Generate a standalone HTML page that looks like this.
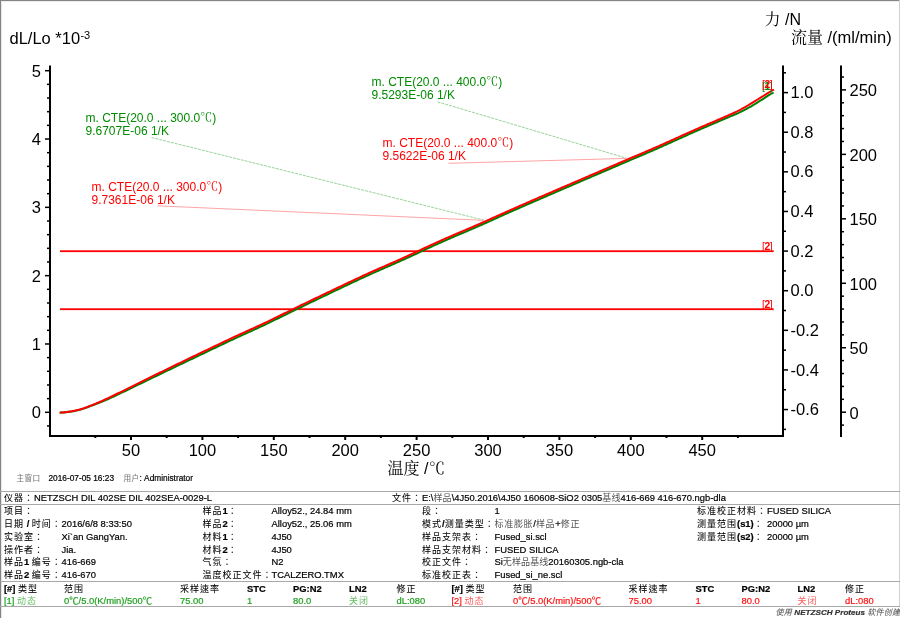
<!DOCTYPE html>
<html><head><meta charset="utf-8"><title>NETZSCH DIL</title>
<style>
html,body{margin:0;padding:0;background:#fff;}
#pg{position:relative;width:900px;height:618px;overflow:hidden;background:#fff;}
svg{position:absolute;left:0;top:0;}
.tk{font-family:"Liberation Sans", Arial, sans-serif;font-size:16.5px;fill:#000;}
.tt{font-family:"Liberation Sans", Arial, sans-serif;font-size:16px;fill:#000;}
.cj{font-family:"Noto Serif CJK SC","Noto Sans CJK SC",serif;}
.an{font-family:"Liberation Sans", Arial, sans-serif;font-size:12px;}
.lb{font-family:"Liberation Sans", Arial, sans-serif;font-size:10.3px;}
.t{position:absolute;white-space:nowrap;font-family:"Liberation Sans", "Noto Sans CJK TC", sans-serif;font-size:9.4px;line-height:11px;color:#000;-webkit-text-stroke:0.2px currentColor;}
.lbl{letter-spacing:0;}
.c{font-size:9px;letter-spacing:1px;-webkit-text-stroke:0.05px currentColor;}
.val .c{letter-spacing:0.1px;color:#555;-webkit-text-stroke:0;}
.val .wide .c{letter-spacing:0.7px;}
.lite .c{opacity:0.7;-webkit-text-stroke:0;}
.st .c{font-size:7.6px;letter-spacing:0.4px;color:#777;}
.st{font-size:8.3px;}
.g{color:#777;}
.hl{position:absolute;left:0;width:900px;height:1px;background:#a8a8a8;}
.ft{color:#555;font-size:8.1px;}
.ft b{color:#333;}
.ft .c{font-size:8px;letter-spacing:0.3px;}
</style></head><body><div id="pg">
<svg width="900" height="618" viewBox="0 0 900 618">
<rect x="0" y="0" width="900" height="1" fill="#858585"/>
<rect x="0" y="0" width="1" height="618" fill="#838383"/>
<rect x="1" y="1" width="1" height="617" fill="#e6e6e6"/>
<rect x="1" y="1" width="898" height="1" fill="#ececec"/>
<rect x="899" y="0" width="1" height="607" fill="#d0d0d0"/>
<rect x="49" y="65.5" width="2" height="371.5" fill="#000"/>
<rect x="49" y="435" width="734" height="2" fill="#000"/>
<rect x="47" y="425.21" width="2" height="1.5" fill="#000"/>
<rect x="45" y="411.55" width="4" height="1.5" fill="#000"/>
<rect x="47" y="397.89" width="2" height="1.5" fill="#000"/>
<rect x="47" y="384.22" width="2" height="1.5" fill="#000"/>
<rect x="47" y="370.56" width="2" height="1.5" fill="#000"/>
<rect x="47" y="356.89" width="2" height="1.5" fill="#000"/>
<rect x="45" y="343.23" width="4" height="1.5" fill="#000"/>
<rect x="47" y="329.57" width="2" height="1.5" fill="#000"/>
<rect x="47" y="315.90" width="2" height="1.5" fill="#000"/>
<rect x="47" y="302.24" width="2" height="1.5" fill="#000"/>
<rect x="47" y="288.57" width="2" height="1.5" fill="#000"/>
<rect x="45" y="274.91" width="4" height="1.5" fill="#000"/>
<rect x="47" y="261.25" width="2" height="1.5" fill="#000"/>
<rect x="47" y="247.58" width="2" height="1.5" fill="#000"/>
<rect x="47" y="233.92" width="2" height="1.5" fill="#000"/>
<rect x="47" y="220.25" width="2" height="1.5" fill="#000"/>
<rect x="45" y="206.59" width="4" height="1.5" fill="#000"/>
<rect x="47" y="192.93" width="2" height="1.5" fill="#000"/>
<rect x="47" y="179.26" width="2" height="1.5" fill="#000"/>
<rect x="47" y="165.60" width="2" height="1.5" fill="#000"/>
<rect x="47" y="151.93" width="2" height="1.5" fill="#000"/>
<rect x="45" y="138.27" width="4" height="1.5" fill="#000"/>
<rect x="47" y="124.61" width="2" height="1.5" fill="#000"/>
<rect x="47" y="110.94" width="2" height="1.5" fill="#000"/>
<rect x="47" y="97.28" width="2" height="1.5" fill="#000"/>
<rect x="47" y="83.61" width="2" height="1.5" fill="#000"/>
<rect x="45" y="69.95" width="4" height="1.5" fill="#000"/>
<text x="41" y="418.3" text-anchor="end" class="tk">0</text>
<text x="41" y="350.0" text-anchor="end" class="tk">1</text>
<text x="41" y="281.7" text-anchor="end" class="tk">2</text>
<text x="41" y="213.3" text-anchor="end" class="tk">3</text>
<text x="41" y="145.0" text-anchor="end" class="tk">4</text>
<text x="41" y="76.7" text-anchor="end" class="tk">5</text>
<rect x="94.30" y="437" width="2" height="1" fill="#000"/>
<rect x="130.00" y="437" width="2" height="3" fill="#000"/>
<rect x="165.70" y="437" width="2" height="1" fill="#000"/>
<rect x="201.40" y="437" width="2" height="3" fill="#000"/>
<rect x="237.10" y="437" width="2" height="1" fill="#000"/>
<rect x="272.80" y="437" width="2" height="3" fill="#000"/>
<rect x="308.50" y="437" width="2" height="1" fill="#000"/>
<rect x="344.20" y="437" width="2" height="3" fill="#000"/>
<rect x="379.90" y="437" width="2" height="1" fill="#000"/>
<rect x="415.60" y="437" width="2" height="3" fill="#000"/>
<rect x="451.30" y="437" width="2" height="1" fill="#000"/>
<rect x="487.00" y="437" width="2" height="3" fill="#000"/>
<rect x="522.70" y="437" width="2" height="1" fill="#000"/>
<rect x="558.40" y="437" width="2" height="3" fill="#000"/>
<rect x="594.10" y="437" width="2" height="1" fill="#000"/>
<rect x="629.80" y="437" width="2" height="3" fill="#000"/>
<rect x="665.50" y="437" width="2" height="1" fill="#000"/>
<rect x="701.20" y="437" width="2" height="3" fill="#000"/>
<rect x="736.90" y="437" width="2" height="1" fill="#000"/>
<text x="131.0" y="456" text-anchor="middle" class="tk">50</text>
<text x="202.4" y="456" text-anchor="middle" class="tk">100</text>
<text x="273.8" y="456" text-anchor="middle" class="tk">150</text>
<text x="345.2" y="456" text-anchor="middle" class="tk">200</text>
<text x="416.6" y="456" text-anchor="middle" class="tk">250</text>
<text x="488.0" y="456" text-anchor="middle" class="tk">300</text>
<text x="559.4" y="456" text-anchor="middle" class="tk">350</text>
<text x="630.8" y="456" text-anchor="middle" class="tk">400</text>
<text x="702.2" y="456" text-anchor="middle" class="tk">450</text>
<rect x="782" y="65.5" width="2" height="371.5" fill="#000"/>
<rect x="784" y="428.62" width="2" height="1.5" fill="#000"/>
<rect x="784" y="408.81" width="4" height="1.5" fill="#000"/>
<rect x="784" y="389.00" width="2" height="1.5" fill="#000"/>
<rect x="784" y="369.19" width="4" height="1.5" fill="#000"/>
<rect x="784" y="349.38" width="2" height="1.5" fill="#000"/>
<rect x="784" y="329.57" width="4" height="1.5" fill="#000"/>
<rect x="784" y="309.76" width="2" height="1.5" fill="#000"/>
<rect x="784" y="289.95" width="4" height="1.5" fill="#000"/>
<rect x="784" y="270.14" width="2" height="1.5" fill="#000"/>
<rect x="784" y="250.33" width="4" height="1.5" fill="#000"/>
<rect x="784" y="230.52" width="2" height="1.5" fill="#000"/>
<rect x="784" y="210.71" width="4" height="1.5" fill="#000"/>
<rect x="784" y="190.90" width="2" height="1.5" fill="#000"/>
<rect x="784" y="171.09" width="4" height="1.5" fill="#000"/>
<rect x="784" y="151.28" width="2" height="1.5" fill="#000"/>
<rect x="784" y="131.47" width="4" height="1.5" fill="#000"/>
<rect x="784" y="111.66" width="2" height="1.5" fill="#000"/>
<rect x="784" y="91.85" width="4" height="1.5" fill="#000"/>
<rect x="784" y="72.04" width="2" height="1.5" fill="#000"/>
<text x="790.5" y="98.2" class="tk">1.0</text>
<text x="790.5" y="137.8" class="tk">0.8</text>
<text x="790.5" y="177.4" class="tk">0.6</text>
<text x="790.5" y="217.1" class="tk">0.4</text>
<text x="790.5" y="256.7" class="tk">0.2</text>
<text x="790.5" y="296.3" class="tk">0.0</text>
<text x="790.5" y="335.9" class="tk">-0.2</text>
<text x="790.5" y="375.5" class="tk">-0.4</text>
<text x="790.5" y="415.2" class="tk">-0.6</text>
<rect x="840" y="65.5" width="2" height="371.5" fill="#000"/>
<rect x="842" y="424.34" width="2" height="1.5" fill="#000"/>
<rect x="842" y="411.45" width="4" height="1.5" fill="#000"/>
<rect x="842" y="398.56" width="2" height="1.5" fill="#000"/>
<rect x="842" y="385.67" width="2" height="1.5" fill="#000"/>
<rect x="842" y="372.77" width="2" height="1.5" fill="#000"/>
<rect x="842" y="359.88" width="2" height="1.5" fill="#000"/>
<rect x="842" y="346.99" width="4" height="1.5" fill="#000"/>
<rect x="842" y="334.10" width="2" height="1.5" fill="#000"/>
<rect x="842" y="321.21" width="2" height="1.5" fill="#000"/>
<rect x="842" y="308.31" width="2" height="1.5" fill="#000"/>
<rect x="842" y="295.42" width="2" height="1.5" fill="#000"/>
<rect x="842" y="282.53" width="4" height="1.5" fill="#000"/>
<rect x="842" y="269.64" width="2" height="1.5" fill="#000"/>
<rect x="842" y="256.75" width="2" height="1.5" fill="#000"/>
<rect x="842" y="243.85" width="2" height="1.5" fill="#000"/>
<rect x="842" y="230.96" width="2" height="1.5" fill="#000"/>
<rect x="842" y="218.07" width="4" height="1.5" fill="#000"/>
<rect x="842" y="205.18" width="2" height="1.5" fill="#000"/>
<rect x="842" y="192.29" width="2" height="1.5" fill="#000"/>
<rect x="842" y="179.39" width="2" height="1.5" fill="#000"/>
<rect x="842" y="166.50" width="2" height="1.5" fill="#000"/>
<rect x="842" y="153.61" width="4" height="1.5" fill="#000"/>
<rect x="842" y="140.72" width="2" height="1.5" fill="#000"/>
<rect x="842" y="127.83" width="2" height="1.5" fill="#000"/>
<rect x="842" y="114.93" width="2" height="1.5" fill="#000"/>
<rect x="842" y="102.04" width="2" height="1.5" fill="#000"/>
<rect x="842" y="89.15" width="4" height="1.5" fill="#000"/>
<rect x="842" y="76.26" width="2" height="1.5" fill="#000"/>
<text x="849.5" y="96.3" class="tk">250</text>
<text x="849.5" y="160.8" class="tk">200</text>
<text x="849.5" y="225.2" class="tk">150</text>
<text x="849.5" y="289.7" class="tk">100</text>
<text x="849.5" y="354.1" class="tk">50</text>
<text x="849.5" y="418.6" class="tk">0</text>
<text x="9.5" y="43.8" class="tt" style="font-size:16.5px">dL/Lo *10<tspan dx="0.3" dy="-4.6" style="font-size:11px">-3</tspan></text>
<text x="764.5" y="25" class="tt"><tspan class="cj">力</tspan> /N</text>
<text x="791" y="43" class="tt"><tspan class="cj">流量</tspan> <tspan font-size="16.5">/(ml/min)</tspan></text>
<text x="387.5" y="473.5" class="tt"><tspan class="cj">温度</tspan> /<tspan class="cj" dx="0.5">℃</tspan></text>
<rect x="60" y="250.3" width="713.7" height="1.8" fill="#ff0000"/>
<rect x="60" y="308.3" width="713.7" height="1.8" fill="#ff0000"/>
<path d="M59.70,412.70 L61.20,412.62 L62.70,412.52 L64.20,412.38 L65.70,412.23 L67.20,412.05 L68.70,411.86 L70.20,411.66 L71.70,411.45 L73.20,411.19 L74.70,410.90 L76.20,410.58 L77.70,410.23 L79.20,409.85 L80.70,409.46 L82.20,409.05 L83.70,408.59 L85.20,408.08 L86.70,407.53 L88.20,406.97 L89.70,406.41 L91.20,405.87 L92.70,405.32 L94.20,404.77 L95.70,404.19 L97.20,403.61 L98.70,403.02 L100.20,402.42 L101.70,401.80 L103.20,401.17 L104.70,400.53 L106.20,399.88 L107.70,399.22 L109.20,398.55 L110.70,397.88 L112.20,397.18 L113.70,396.48 L115.20,395.78 L116.70,395.07 L118.20,394.36 L119.70,393.65 L121.20,392.93 L122.70,392.21 L124.20,391.49 L125.70,390.77 L127.20,390.04 L128.70,389.31 L130.20,388.58 L131.70,387.86 L133.20,387.13 L134.70,386.40 L136.20,385.66 L137.70,384.93 L139.20,384.21 L140.70,383.48 L142.20,382.75 L143.70,382.02 L145.20,381.30 L146.70,380.58 L148.20,379.86 L149.70,379.14 L151.20,378.42 L152.70,377.70 L154.20,376.97 L155.70,376.25 L157.20,375.53 L158.70,374.80 L160.20,374.08 L161.70,373.36 L163.20,372.63 L164.70,371.91 L166.20,371.19 L167.70,370.47 L169.20,369.75 L170.70,369.03 L172.20,368.31 L173.70,367.59 L175.20,366.87 L176.70,366.15 L178.20,365.43 L179.70,364.71 L181.20,363.99 L182.70,363.28 L184.20,362.56 L185.70,361.85 L187.20,361.13 L188.70,360.42 L190.20,359.70 L191.70,358.99 L193.20,358.27 L194.70,357.56 L196.20,356.85 L197.70,356.14 L199.20,355.43 L200.70,354.71 L202.20,354.00 L203.70,353.28 L205.20,352.56 L206.70,351.84 L208.20,351.12 L209.70,350.41 L211.20,349.69 L212.70,348.97 L214.20,348.26 L215.70,347.54 L217.20,346.83 L218.70,346.11 L220.20,345.40 L221.70,344.69 L223.20,343.98 L224.70,343.27 L226.20,342.56 L227.70,341.85 L229.20,341.14 L230.70,340.44 L232.20,339.74 L233.70,339.03 L235.20,338.33 L236.70,337.63 L238.20,336.93 L239.70,336.24 L241.20,335.55 L242.70,334.86 L244.20,334.18 L245.70,333.50 L247.20,332.82 L248.70,332.15 L250.20,331.47 L251.70,330.80 L253.20,330.12 L254.70,329.44 L256.20,328.76 L257.70,328.07 L259.20,327.37 L260.70,326.67 L262.20,325.97 L263.70,325.26 L265.20,324.54 L266.70,323.83 L268.20,323.11 L269.70,322.38 L271.20,321.66 L272.70,320.93 L274.20,320.20 L275.70,319.47 L277.20,318.74 L278.70,318.01 L280.20,317.27 L281.70,316.54 L283.20,315.80 L284.70,315.06 L286.20,314.33 L287.70,313.59 L289.20,312.85 L290.70,312.12 L292.20,311.39 L293.70,310.65 L295.20,309.92 L296.70,309.20 L298.20,308.47 L299.70,307.74 L301.20,307.02 L302.70,306.30 L304.20,305.58 L305.70,304.85 L307.20,304.13 L308.70,303.41 L310.20,302.69 L311.70,301.97 L313.20,301.25 L314.70,300.52 L316.20,299.80 L317.70,299.08 L319.20,298.36 L320.70,297.64 L322.20,296.92 L323.70,296.20 L325.20,295.48 L326.70,294.77 L328.20,294.05 L329.70,293.33 L331.20,292.62 L332.70,291.90 L334.20,291.18 L335.70,290.47 L337.20,289.76 L338.70,289.04 L340.20,288.33 L341.70,287.62 L343.20,286.91 L344.70,286.20 L346.20,285.49 L347.70,284.78 L349.20,284.08 L350.70,283.37 L352.20,282.66 L353.70,281.96 L355.20,281.25 L356.70,280.55 L358.20,279.85 L359.70,279.15 L361.20,278.45 L362.70,277.75 L364.20,277.06 L365.70,276.36 L367.20,275.68 L368.70,274.99 L370.20,274.31 L371.70,273.63 L373.20,272.96 L374.70,272.29 L376.20,271.63 L377.70,270.97 L379.20,270.31 L380.70,269.66 L382.20,269.00 L383.70,268.35 L385.20,267.70 L386.70,267.05 L388.20,266.40 L389.70,265.74 L391.20,265.09 L392.70,264.43 L394.20,263.78 L395.70,263.11 L397.20,262.45 L398.70,261.78 L400.20,261.11 L401.70,260.43 L403.20,259.75 L404.70,259.07 L406.20,258.38 L407.70,257.70 L409.20,257.00 L410.70,256.31 L412.20,255.62 L413.70,254.92 L415.20,254.22 L416.70,253.52 L418.20,252.83 L419.70,252.13 L421.20,251.43 L422.70,250.73 L424.20,250.03 L425.70,249.33 L427.20,248.64 L428.70,247.94 L430.20,247.25 L431.70,246.56 L433.20,245.88 L434.70,245.19 L436.20,244.51 L437.70,243.83 L439.20,243.16 L440.70,242.49 L442.20,241.82 L443.70,241.16 L445.20,240.50 L446.70,239.84 L448.20,239.19 L449.70,238.54 L451.20,237.89 L452.70,237.24 L454.20,236.59 L455.70,235.95 L457.20,235.31 L458.70,234.66 L460.20,234.02 L461.70,233.38 L463.20,232.74 L464.70,232.10 L466.20,231.46 L467.70,230.82 L469.20,230.18 L470.70,229.53 L472.20,228.89 L473.70,228.24 L475.20,227.59 L476.70,226.94 L478.20,226.29 L479.70,225.64 L481.20,224.98 L482.70,224.32 L484.20,223.66 L485.70,222.99 L487.20,222.31 L488.70,221.64 L490.20,220.95 L491.70,220.27 L493.20,219.58 L494.70,218.90 L496.20,218.22 L497.70,217.53 L499.20,216.86 L500.70,216.19 L502.20,215.52 L503.70,214.85 L505.20,214.18 L506.70,213.52 L508.20,212.85 L509.70,212.19 L511.20,211.53 L512.70,210.86 L514.20,210.20 L515.70,209.54 L517.20,208.88 L518.70,208.23 L520.20,207.57 L521.70,206.91 L523.20,206.26 L524.70,205.60 L526.20,204.95 L527.70,204.29 L529.20,203.64 L530.70,202.98 L532.20,202.33 L533.70,201.68 L535.20,201.03 L536.70,200.37 L538.20,199.72 L539.70,199.07 L541.20,198.42 L542.70,197.77 L544.20,197.12 L545.70,196.47 L547.20,195.82 L548.70,195.16 L550.20,194.51 L551.70,193.86 L553.20,193.21 L554.70,192.56 L556.20,191.92 L557.70,191.27 L559.20,190.62 L560.70,189.97 L562.20,189.33 L563.70,188.68 L565.20,188.04 L566.70,187.39 L568.20,186.75 L569.70,186.10 L571.20,185.46 L572.70,184.81 L574.20,184.17 L575.70,183.53 L577.20,182.88 L578.70,182.24 L580.20,181.60 L581.70,180.95 L583.20,180.31 L584.70,179.67 L586.20,179.02 L587.70,178.38 L589.20,177.74 L590.70,177.09 L592.20,176.45 L593.70,175.81 L595.20,175.16 L596.70,174.52 L598.20,173.87 L599.70,173.23 L601.20,172.58 L602.70,171.94 L604.20,171.29 L605.70,170.65 L607.20,170.00 L608.70,169.35 L610.20,168.71 L611.70,168.06 L613.20,167.41 L614.70,166.77 L616.20,166.12 L617.70,165.48 L619.20,164.83 L620.70,164.19 L622.20,163.54 L623.70,162.90 L625.20,162.26 L626.70,161.61 L628.20,160.97 L629.70,160.33 L631.20,159.70 L632.70,159.06 L634.20,158.43 L635.70,157.79 L637.20,157.16 L638.70,156.53 L640.20,155.89 L641.70,155.26 L643.20,154.62 L644.70,153.98 L646.20,153.34 L647.70,152.69 L649.20,152.05 L650.70,151.40 L652.20,150.74 L653.70,150.08 L655.20,149.43 L656.70,148.76 L658.20,148.10 L659.70,147.43 L661.20,146.77 L662.70,146.10 L664.20,145.43 L665.70,144.75 L667.20,144.08 L668.70,143.41 L670.20,142.73 L671.70,142.05 L673.20,141.38 L674.70,140.70 L676.20,140.02 L677.70,139.35 L679.20,138.67 L680.70,137.99 L682.20,137.32 L683.70,136.64 L685.20,135.97 L686.70,135.30 L688.20,134.62 L689.70,133.95 L691.20,133.28 L692.70,132.62 L694.20,131.95 L695.70,131.29 L697.20,130.63 L698.70,129.97 L700.20,129.31 L701.70,128.66 L703.20,128.01 L704.70,127.37 L706.20,126.72 L707.70,126.08 L709.20,125.44 L710.70,124.80 L712.20,124.16 L713.70,123.52 L715.20,122.87 L716.70,122.23 L718.20,121.58 L719.70,120.93 L721.20,120.29 L722.70,119.65 L724.20,119.01 L725.70,118.36 L727.20,117.72 L728.70,117.07 L730.20,116.42 L731.70,115.83 L733.20,115.25 L734.70,114.66 L736.20,114.04 L737.70,113.39 L739.20,112.69 L740.70,111.97 L742.20,111.20 L743.70,110.42 L745.20,109.62 L746.70,108.81 L748.20,107.99 L749.70,107.16 L751.20,106.30 L752.70,105.40 L754.20,104.48 L755.70,103.56 L757.20,102.63 L758.70,101.70 L760.20,100.77 L761.70,99.80 L763.20,98.84 L764.70,97.87 L766.20,96.90 L767.70,95.93 L769.20,94.95 L770.70,93.98 L772.00,93.14 L773.60,93.10" fill="none" stroke="#008000" stroke-width="2" stroke-linejoin="round"/>
<path d="M59.70,412.70 L61.20,412.60 L62.70,412.48 L64.20,412.32 L65.70,412.15 L67.20,411.96 L68.70,411.75 L70.20,411.52 L71.70,411.29 L73.20,411.01 L74.70,410.70 L76.20,410.36 L77.70,409.99 L79.20,409.60 L80.70,409.18 L82.20,408.75 L83.70,408.27 L85.20,407.74 L86.70,407.18 L88.20,406.60 L89.70,406.02 L91.20,405.44 L92.70,404.84 L94.20,404.24 L95.70,403.62 L97.20,403.00 L98.70,402.36 L100.20,401.71 L101.70,401.05 L103.20,400.38 L104.70,399.69 L106.20,398.99 L107.70,398.29 L109.20,397.58 L110.70,396.87 L112.20,396.16 L113.70,395.44 L115.20,394.72 L116.70,393.99 L118.20,393.26 L119.70,392.53 L121.20,391.79 L122.70,391.05 L124.20,390.31 L125.70,389.57 L127.20,388.83 L128.70,388.08 L130.20,387.33 L131.70,386.58 L133.20,385.84 L134.70,385.09 L136.20,384.34 L137.70,383.59 L139.20,382.84 L140.70,382.09 L142.20,381.35 L143.70,380.60 L145.20,379.86 L146.70,379.12 L148.20,378.38 L149.70,377.65 L151.20,376.91 L152.70,376.18 L154.20,375.45 L155.70,374.71 L157.20,373.98 L158.70,373.25 L160.20,372.52 L161.70,371.79 L163.20,371.06 L164.70,370.32 L166.20,369.59 L167.70,368.86 L169.20,368.13 L170.70,367.40 L172.20,366.67 L173.70,365.95 L175.20,365.22 L176.70,364.49 L178.20,363.76 L179.70,363.03 L181.20,362.31 L182.70,361.58 L184.20,360.86 L185.70,360.13 L187.20,359.41 L188.70,358.68 L190.20,357.96 L191.70,357.24 L193.20,356.51 L194.70,355.79 L196.20,355.07 L197.70,354.35 L199.20,353.63 L200.70,352.91 L202.20,352.20 L203.70,351.48 L205.20,350.76 L206.70,350.04 L208.20,349.32 L209.70,348.61 L211.20,347.89 L212.70,347.17 L214.20,346.46 L215.70,345.74 L217.20,345.03 L218.70,344.31 L220.20,343.60 L221.70,342.89 L223.20,342.18 L224.70,341.47 L226.20,340.76 L227.70,340.05 L229.20,339.34 L230.70,338.64 L232.20,337.94 L233.70,337.23 L235.20,336.53 L236.70,335.83 L238.20,335.13 L239.70,334.44 L241.20,333.75 L242.70,333.06 L244.20,332.38 L245.70,331.70 L247.20,331.02 L248.70,330.35 L250.20,329.67 L251.70,329.00 L253.20,328.32 L254.70,327.64 L256.20,326.96 L257.70,326.27 L259.20,325.57 L260.70,324.87 L262.20,324.17 L263.70,323.46 L265.20,322.74 L266.70,322.03 L268.20,321.31 L269.70,320.58 L271.20,319.86 L272.70,319.13 L274.20,318.40 L275.70,317.67 L277.20,316.94 L278.70,316.21 L280.20,315.47 L281.70,314.74 L283.20,314.00 L284.70,313.26 L286.20,312.53 L287.70,311.79 L289.20,311.05 L290.70,310.32 L292.20,309.59 L293.70,308.85 L295.20,308.12 L296.70,307.40 L298.20,306.67 L299.70,305.94 L301.20,305.22 L302.70,304.50 L304.20,303.78 L305.70,303.05 L307.20,302.33 L308.70,301.61 L310.20,300.89 L311.70,300.17 L313.20,299.45 L314.70,298.72 L316.20,298.00 L317.70,297.28 L319.20,296.56 L320.70,295.84 L322.20,295.12 L323.70,294.40 L325.20,293.68 L326.70,292.97 L328.20,292.25 L329.70,291.53 L331.20,290.82 L332.70,290.10 L334.20,289.38 L335.70,288.67 L337.20,287.96 L338.70,287.24 L340.20,286.53 L341.70,285.82 L343.20,285.11 L344.70,284.40 L346.20,283.69 L347.70,282.98 L349.20,282.28 L350.70,281.57 L352.20,280.86 L353.70,280.16 L355.20,279.45 L356.70,278.75 L358.20,278.05 L359.70,277.35 L361.20,276.65 L362.70,275.95 L364.20,275.26 L365.70,274.56 L367.20,273.88 L368.70,273.19 L370.20,272.51 L371.70,271.83 L373.20,271.16 L374.70,270.49 L376.20,269.83 L377.70,269.17 L379.20,268.51 L380.70,267.86 L382.20,267.20 L383.70,266.55 L385.20,265.90 L386.70,265.25 L388.20,264.60 L389.70,263.94 L391.20,263.29 L392.70,262.63 L394.20,261.98 L395.70,261.31 L397.20,260.65 L398.70,259.98 L400.20,259.31 L401.70,258.63 L403.20,257.95 L404.70,257.27 L406.20,256.58 L407.70,255.90 L409.20,255.20 L410.70,254.51 L412.20,253.82 L413.70,253.12 L415.20,252.42 L416.70,251.72 L418.20,251.03 L419.70,250.33 L421.20,249.63 L422.70,248.93 L424.20,248.23 L425.70,247.53 L427.20,246.84 L428.70,246.14 L430.20,245.45 L431.70,244.76 L433.20,244.08 L434.70,243.39 L436.20,242.71 L437.70,242.03 L439.20,241.36 L440.70,240.69 L442.20,240.02 L443.70,239.36 L445.20,238.70 L446.70,238.04 L448.20,237.39 L449.70,236.74 L451.20,236.09 L452.70,235.44 L454.20,234.79 L455.70,234.15 L457.20,233.51 L458.70,232.86 L460.20,232.22 L461.70,231.58 L463.20,230.94 L464.70,230.30 L466.20,229.66 L467.70,229.02 L469.20,228.38 L470.70,227.73 L472.20,227.09 L473.70,226.44 L475.20,225.79 L476.70,225.14 L478.20,224.49 L479.70,223.84 L481.20,223.18 L482.70,222.52 L484.20,221.86 L485.70,221.19 L487.20,220.51 L488.70,219.84 L490.20,219.15 L491.70,218.47 L493.20,217.78 L494.70,217.10 L496.20,216.42 L497.70,215.73 L499.20,215.06 L500.70,214.39 L502.20,213.72 L503.70,213.05 L505.20,212.38 L506.70,211.72 L508.20,211.05 L509.70,210.39 L511.20,209.73 L512.70,209.06 L514.20,208.40 L515.70,207.74 L517.20,207.08 L518.70,206.43 L520.20,205.77 L521.70,205.11 L523.20,204.46 L524.70,203.80 L526.20,203.15 L527.70,202.49 L529.20,201.84 L530.70,201.18 L532.20,200.53 L533.70,199.88 L535.20,199.23 L536.70,198.57 L538.20,197.92 L539.70,197.27 L541.20,196.62 L542.70,195.97 L544.20,195.32 L545.70,194.67 L547.20,194.02 L548.70,193.36 L550.20,192.71 L551.70,192.06 L553.20,191.41 L554.70,190.76 L556.20,190.12 L557.70,189.47 L559.20,188.82 L560.70,188.17 L562.20,187.53 L563.70,186.88 L565.20,186.24 L566.70,185.59 L568.20,184.95 L569.70,184.30 L571.20,183.66 L572.70,183.01 L574.20,182.37 L575.70,181.73 L577.20,181.08 L578.70,180.44 L580.20,179.80 L581.70,179.15 L583.20,178.51 L584.70,177.87 L586.20,177.22 L587.70,176.58 L589.20,175.94 L590.70,175.29 L592.20,174.65 L593.70,174.01 L595.20,173.36 L596.70,172.72 L598.20,172.07 L599.70,171.43 L601.20,170.78 L602.70,170.14 L604.20,169.49 L605.70,168.85 L607.20,168.20 L608.70,167.55 L610.20,166.91 L611.70,166.26 L613.20,165.61 L614.70,164.97 L616.20,164.32 L617.70,163.68 L619.20,163.03 L620.70,162.39 L622.20,161.74 L623.70,161.10 L625.20,160.46 L626.70,159.81 L628.20,159.17 L629.70,158.53 L631.20,157.90 L632.70,157.26 L634.20,156.63 L635.70,155.99 L637.20,155.36 L638.70,154.73 L640.20,154.09 L641.70,153.46 L643.20,152.82 L644.70,152.18 L646.20,151.54 L647.70,150.89 L649.20,150.25 L650.70,149.60 L652.20,148.94 L653.70,148.28 L655.20,147.63 L656.70,146.96 L658.20,146.30 L659.70,145.63 L661.20,144.97 L662.70,144.30 L664.20,143.63 L665.70,142.95 L667.20,142.28 L668.70,141.61 L670.20,140.93 L671.70,140.25 L673.20,139.58 L674.70,138.90 L676.20,138.22 L677.70,137.55 L679.20,136.87 L680.70,136.19 L682.20,135.52 L683.70,134.84 L685.20,134.17 L686.70,133.50 L688.20,132.82 L689.70,132.15 L691.20,131.48 L692.70,130.82 L694.20,130.15 L695.70,129.49 L697.20,128.83 L698.70,128.17 L700.20,127.51 L701.70,126.86 L703.20,126.21 L704.70,125.57 L706.20,124.92 L707.70,124.28 L709.20,123.64 L710.70,123.00 L712.20,122.36 L713.70,121.72 L715.20,121.07 L716.70,120.43 L718.20,119.78 L719.70,119.13 L721.20,118.48 L722.70,117.82 L724.20,117.17 L725.70,116.51 L727.20,115.84 L728.70,115.18 L730.20,114.51 L731.70,113.85 L733.20,113.19 L734.70,112.52 L736.20,111.83 L737.70,111.10 L739.20,110.33 L740.70,109.54 L742.20,108.72 L743.70,107.87 L745.20,107.01 L746.70,106.14 L748.20,105.26 L749.70,104.38 L751.20,103.48 L752.70,102.57 L754.20,101.64 L755.70,100.70 L757.20,99.76 L758.70,98.81 L760.20,97.88 L761.70,96.94 L763.20,96.01 L764.70,95.07 L766.20,94.13 L767.70,93.19 L769.20,92.26 L770.70,91.32 L772.00,90.50 L774,89.6" fill="none" stroke="#ff0000" stroke-width="2" stroke-linejoin="round"/>
<line x1="151.5" y1="137.5" x2="484.9" y2="220.4" stroke="#96d496" stroke-width="1" stroke-dasharray="3,1"/>
<line x1="157.5" y1="205.8" x2="484.9" y2="220.4" stroke="#ffa4a4" stroke-width="1"/>
<line x1="437.5" y1="101.8" x2="627.2" y2="158.4" stroke="#96d496" stroke-width="1" stroke-dasharray="3,1"/>
<line x1="448.5" y1="163.3" x2="627.2" y2="158.4" stroke="#ffa4a4" stroke-width="1"/>
<text x="85.5" y="121.5" class="an" fill="#008c00">m. CTE(20.0 ... 300.0<tspan class="cj">℃</tspan>)</text>
<text x="85.5" y="134.5" class="an" fill="#008c00">9.6707E-06 1/K</text>
<text x="91.5" y="190.5" class="an" fill="#ff0000">m. CTE(20.0 ... 300.0<tspan class="cj">℃</tspan>)</text>
<text x="91.5" y="203.5" class="an" fill="#ff0000">9.7361E-06 1/K</text>
<text x="371.5" y="85.5" class="an" fill="#008c00">m. CTE(20.0 ... 400.0<tspan class="cj">℃</tspan>)</text>
<text x="371.5" y="98.5" class="an" fill="#008c00">9.5293E-06 1/K</text>
<text x="382.5" y="146.5" class="an" fill="#ff0000">m. CTE(20.0 ... 400.0<tspan class="cj">℃</tspan>)</text>
<text x="382.5" y="159.5" class="an" fill="#ff0000">9.5622E-06 1/K</text>
<text x="762" y="89.8" class="lb" fill="#008c00" letter-spacing="-0.4">[<tspan font-weight="bold">1</tspan>]</text>
<text x="762" y="87.6" class="lb" fill="#ff0000" letter-spacing="-0.4">[<tspan font-weight="bold">2</tspan>]</text>
<text x="762" y="249.5" class="lb" fill="#ff0000" letter-spacing="-0.4">[<tspan font-weight="bold">2</tspan>]</text>
<text x="762" y="307.5" class="lb" fill="#ff0000" letter-spacing="-0.4">[<tspan font-weight="bold">2</tspan>]</text>
</svg>
<div class="t st g" style="left:16.5px;top:473px;"><span class="c">主窗口</span></div><div class="t st" style="left:48.5px;top:473px;">2016-07-05 16:23</div><div class="t st" style="left:123.5px;top:473px;"><span class="c">用户</span>: Administrator</div><div class="hl" style="top:491px"></div><div class="hl" style="top:504px"></div><div class="hl" style="top:581px"></div><div class="hl" style="top:606px"></div><div class="t " style="left:4px;top:492px;"><span class="lbl"><span class="c">仪器：</span></span>NETZSCH DIL 402SE DIL 402SEA-0029-L</div><div class="t " style="left:392px;top:492px;"><span class="lbl"><span class="c">文件：</span></span><span class="val">E:\<span class="c">样品</span>\4J50.2016\4J50 160608-SiO2 0305<span class="c">基线</span>416-669 416-670.ngb-dla</span></div><div class="t lbl" style="left:4px;top:505.0px;"><span class="c">项目：</span></div><div class="t lbl" style="left:202.5px;top:505.0px;"><span class="c">样品</span><b>1</b><span class="c">：</span></div><div class="t val" style="left:271.5px;top:505.0px;">Alloy52., 24.84 mm</div><div class="t lbl" style="left:422px;top:505.0px;"><span class="c">段：</span></div><div class="t val" style="left:494.5px;top:505.0px;">1</div><div class="t lbl" style="left:697px;top:505.0px;"><span class="c">标准校正材料：</span></div><div class="t val" style="left:767px;top:505.0px;">FUSED SILICA</div><div class="t lbl" style="left:4px;top:517.85px;"><span class="c">日期</span> <b>/</b> <span class="c">时间：</span></div><div class="t val" style="left:61.5px;top:517.85px;">2016/6/8 8:33:50</div><div class="t lbl" style="left:202.5px;top:517.85px;"><span class="c">样品</span><b>2</b><span class="c">：</span></div><div class="t val" style="left:271.5px;top:517.85px;">Alloy52., 25.06 mm</div><div class="t lbl" style="left:422px;top:517.85px;"><span class="c">模式</span><b>/</b><span class="c">测量类型：</span></div><div class="t val" style="left:494.5px;top:517.85px;"><span class="wide"><span class="c">标准膨胀</span>/<span class="c">样品</span>+<span class="c">修正</span></span></div><div class="t lbl" style="left:697px;top:517.85px;"><span class="c">测量范围</span><b>(s1)</b><span class="c">：</span></div><div class="t val" style="left:767px;top:517.85px;">20000 µm</div><div class="t lbl" style="left:4px;top:530.7px;"><span class="c">实验室：</span></div><div class="t val" style="left:61.5px;top:530.7px;">Xi`an GangYan.</div><div class="t lbl" style="left:202.5px;top:530.7px;"><span class="c">材料</span><b>1</b><span class="c">：</span></div><div class="t val" style="left:271.5px;top:530.7px;">4J50</div><div class="t lbl" style="left:422px;top:530.7px;"><span class="c">样品支架表：</span></div><div class="t val" style="left:494.5px;top:530.7px;">Fused_si.scl</div><div class="t lbl" style="left:697px;top:530.7px;"><span class="c">测量范围</span><b>(s2)</b><span class="c">：</span></div><div class="t val" style="left:767px;top:530.7px;">20000 µm</div><div class="t lbl" style="left:4px;top:543.55px;"><span class="c">操作者：</span></div><div class="t val" style="left:61.5px;top:543.55px;">Jia.</div><div class="t lbl" style="left:202.5px;top:543.55px;"><span class="c">材料</span><b>2</b><span class="c">：</span></div><div class="t val" style="left:271.5px;top:543.55px;">4J50</div><div class="t lbl" style="left:422px;top:543.55px;"><span class="c">样品支架材料：</span></div><div class="t val" style="left:494.5px;top:543.55px;">FUSED SILICA</div><div class="t lbl" style="left:4px;top:556.4px;"><span class="c">样品</span><b>1</b> <span class="c">编号：</span></div><div class="t val" style="left:61.5px;top:556.4px;">416-669</div><div class="t lbl" style="left:202.5px;top:556.4px;"><span class="c">气氛：</span></div><div class="t val" style="left:271.5px;top:556.4px;">N2</div><div class="t lbl" style="left:422px;top:556.4px;"><span class="c">校正文件：</span></div><div class="t val" style="left:494.5px;top:556.4px;">Si<span class="c">无样品基线</span>20160305.ngb-cla</div><div class="t lbl" style="left:4px;top:569.25px;"><span class="c">样品</span><b>2</b> <span class="c">编号：</span></div><div class="t val" style="left:61.5px;top:569.25px;">416-670</div><div class="t lbl" style="left:202.5px;top:569.25px;"><span class="c">温度校正文件：</span></div><div class="t val" style="left:271.5px;top:569.25px;">TCALZERO.TMX</div><div class="t lbl" style="left:422px;top:569.25px;"><span class="c">标准校正表：</span></div><div class="t val" style="left:494.5px;top:569.25px;">Fused_si_ne.scl</div><div class="t " style="left:4px;top:582.5px;"><b>[#]</b> <span class="c">类型</span></div><div class="t " style="left:64px;top:582.5px;"><span class="c">范围</span></div><div class="t " style="left:180px;top:582.5px;"><span class="c">采样速率</span></div><div class="t " style="left:247px;top:582.5px;"><b>STC</b></div><div class="t " style="left:293px;top:582.5px;"><b>PG:N2</b></div><div class="t " style="left:349px;top:582.5px;"><b>LN2</b></div><div class="t " style="left:396.5px;top:582.5px;"><span class="c">修正</span></div><div class="t " style="left:451.5px;top:582.5px;"><b>[#]</b> <span class="c">类型</span></div><div class="t " style="left:513px;top:582.5px;"><span class="c">范围</span></div><div class="t " style="left:628.5px;top:582.5px;"><span class="c">采样速率</span></div><div class="t " style="left:695.5px;top:582.5px;"><b>STC</b></div><div class="t " style="left:741.5px;top:582.5px;"><b>PG:N2</b></div><div class="t " style="left:797.5px;top:582.5px;"><b>LN2</b></div><div class="t " style="left:845px;top:582.5px;"><span class="c">修正</span></div><div class="t lite" style="left:4px;top:595px;color:#1ea01e;">[1] <span class="c">动态</span></div><div class="t lite" style="left:64px;top:595px;color:#1ea01e;">0℃/5.0(K/min)/500℃</div><div class="t lite" style="left:180px;top:595px;color:#1ea01e;">75.00</div><div class="t lite" style="left:247px;top:595px;color:#1ea01e;">1</div><div class="t lite" style="left:293px;top:595px;color:#1ea01e;">80.0</div><div class="t lite" style="left:349px;top:595px;color:#1ea01e;"><span class="c">关闭</span></div><div class="t lite" style="left:396.5px;top:595px;color:#1ea01e;">dL:080</div><div class="t lite" style="left:451.5px;top:595px;color:#ff1010;">[2] <span class="c">动态</span></div><div class="t lite" style="left:513px;top:595px;color:#ff1010;">0℃/5.0(K/min)/500℃</div><div class="t lite" style="left:628.5px;top:595px;color:#ff1010;">75.00</div><div class="t lite" style="left:695.5px;top:595px;color:#ff1010;">1</div><div class="t lite" style="left:741.5px;top:595px;color:#ff1010;">80.0</div><div class="t lite" style="left:797.5px;top:595px;color:#ff1010;"><span class="c">关闭</span></div><div class="t lite" style="left:845px;top:595px;color:#ff1010;">dL:080</div><div class="t ft" style="left:775.5px;top:606.5px;"><i><span class="c">使用</span> <b>NETZSCH Proteus</b> <span class="c">软件创建</span></i></div>
</div></body></html>
